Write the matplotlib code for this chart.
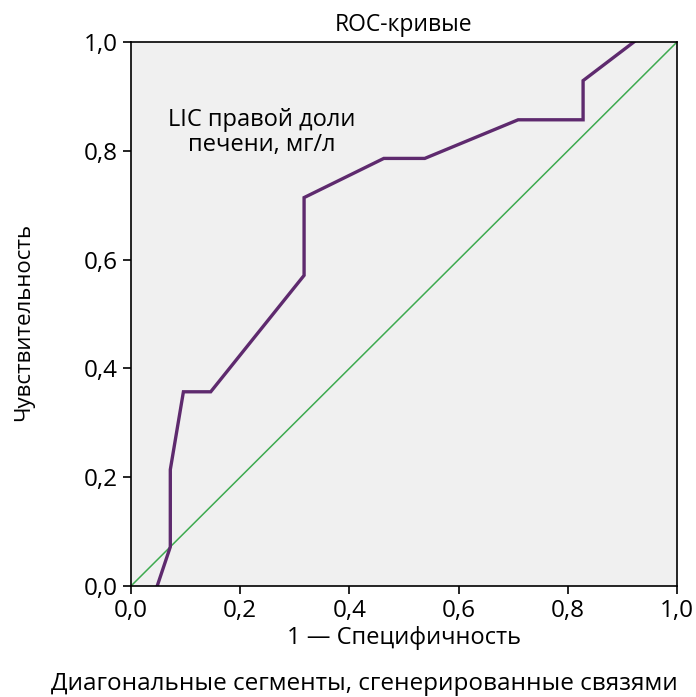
import matplotlib
matplotlib.use("Agg")
import matplotlib.pyplot as plt

fpr = [0.048, 0.072, 0.072, 0.096, 0.146, 0.317, 0.317, 0.463, 0.538, 0.709, 0.828, 0.828, 0.921]
tpr = [0.000, 0.072, 0.214, 0.357, 0.357, 0.571, 0.714, 0.786, 0.786, 0.857, 0.857, 0.929, 1.000]
ref = [0.0, 1.0]
ticks = [0.0, 0.2, 0.4, 0.6, 0.8, 1.0]
tick_labels = ["0,0", "0,2", "0,4", "0,6", "0,8", "1,0"]

plt.rcParams['font.family'] = ['Open Sans', 'DejaVu Sans']

fig = plt.figure(figsize=(6.96, 6.97), dpi=100)
ax = fig.add_axes([131/696, 1 - 586/697, 546/696, 544/697])
ax.set_facecolor('#f0f0f0')
ax.plot(ref, ref, color='#3daa4f', lw=1.1)
ax.plot(fpr, tpr, color='#5e2a6e', lw=2.4, solid_joinstyle='miter')
ax.set_xlim(0, 1)
ax.set_ylim(0, 1)
ax.set_xticks(ticks)
ax.set_xticklabels(tick_labels)
ax.set_yticks(ticks)
ax.set_yticklabels(tick_labels)
ax.tick_params(direction='out', length=6, width=1.2, labelsize=17.5, colors='black')
for s in ax.spines.values():
    s.set_linewidth(1.2)
ax.set_title("ROC-кривые", fontsize=16.5, pad=8)
ax.set_xlabel("1 — Специфичность", fontsize=17, labelpad=2)
ax.set_ylabel("Чувствительность", fontsize=16)
ax.yaxis.set_label_coords(-(131 - 34) / 546, (586 - 322) / 544)
ax.text(0.24, 0.833, "LIC правой доли\nпечени, мг/л", fontsize=17, ha='center', va='center',
        linespacing=1.05)
fig.text(364/696, 1 - 684/697, "Диагональные сегменты, сгенерированные связями", fontsize=17.5,
         ha='center', va='center')
fig.savefig("out.png", dpi=100)
